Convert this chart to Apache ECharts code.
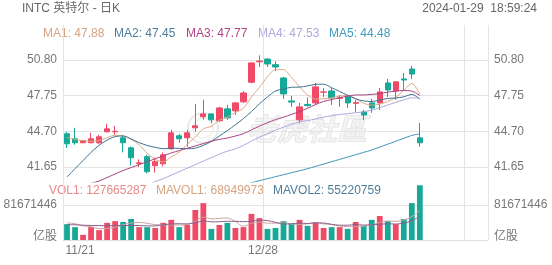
<!DOCTYPE html>
<html><head><meta charset="utf-8">
<script src="https://cdn.jsdelivr.net/npm/echarts@6/dist/echarts.min.js"></script>
<style>html,body{margin:0;padding:0;background:#fff}#c{width:552px;height:265px}</style>
</head><body><div id="c"></div>
<script>
const dates = ['11/21','11/22','11/24','11/27','11/28','11/29','11/30','12/01','12/04','12/05','12/06','12/07','12/08','12/11','12/12','12/13','12/14','12/15','12/18','12/19','12/20','12/21','12/22','12/26','12/27','12/28','12/29','01/02','01/03','01/04','01/05','01/08','01/09','01/10','01/11','01/12','01/16','01/17','01/18','01/19','01/22','01/23','01/24','01/25','01/26'];
const futureSlots = ['01/29','01/30','01/31','02/01','02/02','02/05','02/06','02/07'];
const shownDates = ['11/21','12/28'];
const opens  = [44.49,44.06,43.72,43.72,43.72,44.66,44.66,44.14,43.29,41.95,42.53,41.76,41.93,43.21,44.32,44.14,45.00,45.94,46.19,45.60,46.62,46.45,47.22,48.90,50.65,50.88,50.40,49.26,47.30,45.68,47.00,47.13,48.05,48.15,47.52,47.64,47.10,46.36,47.13,47.13,48.84,48.15,49.18,50.03,44.14];
const closes = [43.63,43.72,43.90,44.06,44.23,44.91,44.70,43.72,42.44,42.00,41.24,42.10,42.69,44.57,44.06,44.57,45.17,46.19,45.68,46.70,45.85,47.13,47.98,50.55,50.72,50.46,50.20,47.90,47.20,46.79,46.90,48.50,48.07,47.56,47.56,47.13,47.15,46.10,46.70,48.07,48.24,48.93,49.09,49.60,43.72];
const lows   = [43.27,43.55,43.68,43.68,43.60,44.60,44.40,42.90,41.80,41.65,41.10,41.16,41.70,43.12,43.72,43.38,44.66,45.70,45.40,45.50,45.68,46.10,47.13,48.80,50.20,50.20,49.85,47.47,46.79,45.42,46.80,46.96,47.64,46.96,46.80,46.70,46.36,45.68,46.28,46.53,47.64,47.39,48.24,49.18,43.38];
const highs  = [44.66,45.00,43.97,44.57,44.40,45.34,45.17,44.30,43.40,42.30,42.70,42.44,42.90,44.83,44.49,44.83,47.05,47.40,46.20,46.80,46.96,47.20,48.15,50.60,51.20,50.97,50.70,49.35,47.73,47.13,47.60,48.84,48.40,48.40,47.81,47.81,47.40,46.53,47.47,48.40,49.18,48.93,49.69,50.29,45.42];
const volumes = [37000000,30000000,12000000,30000000,23000000,40000000,44000000,42000000,49000000,30000000,30000000,28000000,40000000,47000000,30000000,35000000,70000000,86000000,26000000,35000000,40000000,28000000,30000000,61000000,51000000,26000000,28000000,44000000,37000000,47000000,33000000,42000000,28000000,30000000,30000000,26000000,42000000,33000000,47000000,56000000,44000000,37000000,49000000,86000000,127665287];
const ma1 = [44.20,44.00,43.90,43.85,43.91,44.16,44.36,44.32,44.00,43.55,42.82,42.30,42.09,42.52,42.93,43.60,44.21,44.91,45.13,45.66,45.92,46.31,46.67,47.64,48.45,49.37,49.98,49.97,49.30,48.51,47.80,47.46,47.49,47.56,47.72,47.76,47.49,47.10,46.93,47.03,47.25,47.61,48.21,48.79,47.88];
const ma2 = [40.80,41.50,42.20,42.90,43.50,43.95,44.25,44.30,44.05,43.73,43.49,43.33,43.21,43.26,43.24,43.21,43.26,43.50,43.83,44.30,44.76,45.26,45.79,46.39,47.05,47.64,48.15,48.32,48.47,48.48,48.58,48.72,48.73,48.43,48.11,47.78,47.48,47.30,47.25,47.37,47.51,47.55,47.65,47.86,47.45];
const ma3 = [39.60,39.85,40.05,40.25,40.45,40.75,41.05,41.35,41.60,41.85,42.10,42.35,42.60,42.85,43.05,43.25,43.45,43.65,43.85,44.01,44.13,44.30,44.50,44.82,45.15,45.43,45.70,45.91,46.15,46.39,46.67,46.99,47.26,47.41,47.58,47.71,47.81,47.81,47.86,47.93,48.05,48.14,48.19,48.14,47.77];
const ma4 = [null,null,null,null,null,null,null,null,null,39.80,40.10,40.40,40.65,40.95,41.25,41.55,41.85,42.15,42.45,42.75,43.00,43.20,43.50,43.85,44.20,44.50,44.80,45.05,45.30,45.50,45.61,45.77,45.91,46.03,46.14,46.21,46.29,46.37,46.51,46.72,46.95,47.18,47.39,47.56,47.53];
const ma5 = [null,null,null,null,null,null,null,null,null,null,null,null,null,null,null,null,null,null,null,null,null,null,40.10,40.30,40.48,40.65,40.82,40.99,41.16,41.33,41.50,41.70,41.90,42.10,42.30,42.50,42.70,42.90,43.10,43.35,43.60,43.85,44.10,44.35,44.48];
const mavol1 = [40000000,38000000,33000000,31000000,26400000,27000000,29800000,35800000,39600000,41000000,39000000,35800000,35400000,35000000,35000000,36000000,44400000,53600000,49400000,50400000,51400000,43000000,31800000,38800000,42000000,39200000,39200000,42000000,37200000,36400000,37800000,40600000,37400000,36000000,32600000,31200000,31200000,32200000,35600000,40800000,44400000,43400000,46600000,54400000,68949973];
const mavol2 = [36000000,35500000,34500000,34000000,33500000,33500000,33500000,33500000,34000000,33700000,33000000,32800000,35600000,37300000,38000000,37500000,40100000,44500000,42200000,42700000,43700000,43700000,42700000,44100000,46200000,45300000,41100000,36900000,38000000,39200000,38500000,39900000,39700000,36600000,34500000,34500000,35900000,34800000,35800000,36700000,37800000,37300000,39400000,45000000,55220759];
const priceTicks = [41.65,44.70,47.75,50.80];
const volTicks = [0,81671446];
const legendMA = [['MA1: 47.88','#d8a480'],['MA2: 47.45','#4d7d9c'],['MA3: 47.77','#b04488'],['MA4: 47.53','#aaaadc'],['MA5: 44.48','#3f9bc0']];
const legendVol = [['VOL1: 127665287','#e98a8a'],['MAVOL1: 68949973','#d8a480'],['MAVOL2: 55220759','#4d7d9c']];

const UP = '#f04a66', DOWN = '#17a998';
const FONT = 'Arial, "Liberation Sans", "Noto Sans CJK SC", sans-serif';
const cats = dates.concat(futureSlots);
const candles = dates.map((d,i)=>[opens[i],closes[i],lows[i],highs[i]]);
const volData = volumes.map((v,i)=>({value:v,itemStyle:{color: closes[i]>=opens[i]?UP:DOWN}}));

const chart = echarts.init(document.getElementById('c'));
const gridLine = {show:true,lineStyle:{color:'#e4e4e4',width:1}};
const xBase = (gi, showLabels) => ({
  type:'category', gridIndex:gi, data:cats, boundaryGap:true,
  axisLine:{show: gi===1, lineStyle:{color:'#e0e0e0'}}, axisTick:{show:false},
  splitLine:{show:true, interval:(i)=> i%25===0, lineStyle:{color:'#e4e4e4'}},
  axisLabel:{show:showLabels, interval:(i,v)=> shownDates.indexOf(v)>=0, color:'#777', fontSize:12, fontFamily:FONT, margin:5,
    formatter:(v,i)=> i===0 ? '{a|'+v+'}' : '{b|'+v+'}',
    rich:{a:{padding:[0,0,0,26],fontSize:12,fontFamily:FONT,color:'#777'}, b:{padding:[0,9,0,0],fontSize:12,fontFamily:FONT,color:'#777'}}}
});
const pMin = 50.80 - (182-60)/11.69, pMax = 50.80 + (60-25)/11.69;
const priceAxis = (pos) => ({
  type:'value', gridIndex:0, position:pos, min:pMin, max:pMax, scale:true,
  axisLine:{show:false}, axisTick:{show:false, customValues:priceTicks},
  splitLine: pos==='left'? gridLine : {show:false},
  axisLabel:{customValues:priceTicks, formatter:(v)=>v.toFixed(2), color:'#777', fontSize:12, fontFamily:FONT, margin:6}
});
const volAxis = (pos) => ({
  type:'value', gridIndex:1, position:pos, min:0, max:volTicks[1]*2,
  axisLine:{show:false}, axisTick:{show:false, customValues:volTicks},
  splitLine: pos==='left'? gridLine : {show:false},
  axisLabel:{customValues:volTicks, color:'#777', fontSize:12, fontFamily:FONT, margin:6,
    formatter:(v)=> v===0 ? '{u|亿股}' : String(v),
    rich:{u:{padding:[0,0,7,0],fontSize:12,fontFamily:FONT,color:'#777'}}}
});
const maLine = (name,data,color) => ({name,type:'line',xAxisIndex:0,yAxisIndex:0,data,showSymbol:false,symbol:'none',smooth:0.3,
  lineStyle:{width:1,color},itemStyle:{color},z:3,silent:true});

let gfx = [
  {type:'text',left:22,top:3,style:{text:'INTC 英特尔 - 日K',fill:'#666',font:'12px '+FONT}},
  {type:'text',right:15,top:3,style:{text:'2024-01-29  18:59:24',fill:'#666',font:'12px '+FONT}},
  {type:'group',left:187,top:112,z:0,children:[
    {type:'circle',shape:{cx:16,cy:18,r:15},style:{fill:'rgba(0,0,0,0)',stroke:'#e9e9e9',lineWidth:2}},
    {type:'circle',shape:{cx:16,cy:18,r:10},style:{fill:'rgba(0,0,0,0)',stroke:'#f0f0f0',lineWidth:1.5}},
    {type:'text',x:60,y:4,style:{text:'老虎社區',fill:'rgba(238,238,238,0.6)',stroke:'#e2e2e2',lineWidth:1,font:'italic bold 30px "Noto Sans CJK SC", sans-serif'}}
  ]}
];
const maX = [43,114,186,258,329];
legendMA.forEach((l,i)=>gfx.push({type:'text',left:maX[i],top:28,style:{text:l[0],fill:l[1],font:'12px '+FONT}}));
const volX = [49,156,273];
legendVol.forEach((l,i)=>gfx.push({type:'text',left:volX[i],top:185,style:{text:l[0],fill:l[1],font:'12px '+FONT}}));

chart.setOption({
  animation:false,
  backgroundColor:'#fff',
  grid:[{left:63,right:64,top:25,bottom:83},{left:63,right:64,top:170,bottom:25}],
  xAxis:[xBase(0,false), xBase(1,true)],
  yAxis:[priceAxis('left'),priceAxis('right'),volAxis('left'),volAxis('right')],
  graphic:gfx,
  series:[
    {name:'K',type:'candlestick',xAxisIndex:0,yAxisIndex:0,data:candles,barWidth:'72%',
      itemStyle:{color:UP,color0:DOWN,borderColor:UP,borderColor0:DOWN,borderWidth:1},z:2},
    maLine('MA1',ma1,'#dca887'),
    maLine('MA2',ma2,'#3f6f8e'),
    maLine('MA3',ma3,'#a8447e'),
    maLine('MA4',ma4,'#a9a9d9'),
    maLine('MA5',ma5,'#3f93b5'),
    {name:'VOL',type:'bar',xAxisIndex:1,yAxisIndex:2,data:volData,barWidth:'72%',z:2},
    {name:'MAVOL1',type:'line',xAxisIndex:1,yAxisIndex:2,data:mavol1,symbol:'none',smooth:0.3,lineStyle:{width:1,color:'#c8a8a0'},z:3},
    {name:'MAVOL2',type:'line',xAxisIndex:1,yAxisIndex:2,data:mavol2,symbol:'none',smooth:0.3,lineStyle:{width:1,color:'#8a5f8c'},z:3}
  ]
});
</script></body></html>
